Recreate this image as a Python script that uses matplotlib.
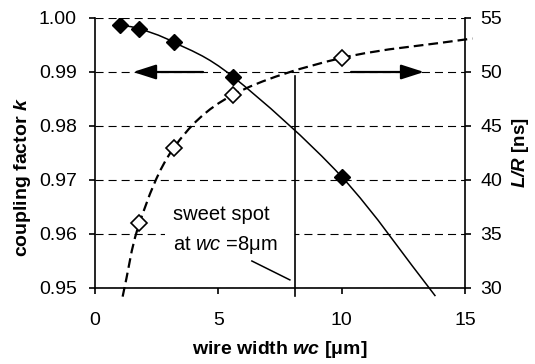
import matplotlib
matplotlib.use("Agg")
import matplotlib.pyplot as plt
from matplotlib.path import Path
from matplotlib.patches import PathPatch, Rectangle

plt.rcParams['font.family'] = ['Liberation Sans', 'DejaVu Sans']
plt.rcParams['mathtext.fontset'] = 'custom'
plt.rcParams['mathtext.rm'] = 'Liberation Sans'
plt.rcParams['mathtext.it'] = 'Liberation Sans:italic'
plt.rcParams['mathtext.bf'] = 'Liberation Sans:bold'
plt.rcParams['mathtext.bfit'] = 'Liberation Sans:bold:italic'
plt.rcParams['lines.scale_dashes'] = False

# ---- data ----
wc_k = [1.0, 1.8, 3.2, 5.6, 10.0]
k_vals = [0.9987, 0.9980, 0.9955, 0.9891, 0.9706]
wc_lr = [1.8, 3.2, 5.6, 10.0]
lr_vals = [36.0, 43.0, 47.9, 51.3]
# smoothed trend lines (incl. their visible end points)
k_line_x = [1.0, 1.8, 3.2, 5.6, 10.0, 13.8]
k_line_y = [0.9987, 0.9980, 0.9955, 0.9891, 0.9706, 0.9485]
lr_line_x = [1.12, 1.8, 3.2, 5.6, 10.0, 15.3]
lr_line_y = [29.2, 36.0, 43.0, 47.9, 51.3, 53.1]

x_ticks = [0, 5, 10, 15]
k_ticks = [0.95, 0.96, 0.97, 0.98, 0.99, 1.00]
lr_ticks = [30, 35, 40, 45, 50, 55]
sweet_spot = 8.1


def smooth_path(xs, ys):
    pts = list(zip(xs, ys))
    n = len(pts)
    ext = [(2 * pts[0][0] - pts[1][0], 2 * pts[0][1] - pts[1][1])] + pts + \
          [(2 * pts[-1][0] - pts[-2][0], 2 * pts[-1][1] - pts[-2][1])]
    verts = [pts[0]]
    codes = [Path.MOVETO]
    for i in range(1, n):
        p0, p1, p2, p3 = ext[i - 1], ext[i], ext[i + 1], ext[i + 2]
        c1 = (p1[0] + (p2[0] - p0[0]) / 6, p1[1] + (p2[1] - p0[1]) / 6)
        c2 = (p2[0] - (p3[0] - p1[0]) / 6, p2[1] - (p3[1] - p1[1]) / 6)
        verts += [c1, c2, p2]
        codes += [Path.CURVE4] * 3
    return Path(verts, codes)


fig = plt.figure(figsize=(5.35, 3.64), dpi=100)
ax = fig.add_axes([95 / 535, 76 / 364, 370 / 535, 270 / 364])
ax2 = ax.twinx()

ax.set_xlim(0, 15)
ax.set_ylim(0.95, 1.00)
ax2.set_ylim(30, 55)
ax.set_xticks(x_ticks)
ax.set_xticklabels([str(t) for t in x_ticks])
ax.set_yticks(k_ticks)
ax.set_yticklabels([f"{t:.2f}" for t in k_ticks])
ax2.set_yticks(lr_ticks)
ax2.set_yticklabels([str(t) for t in lr_ticks])

for a in (ax, ax2):
    a.spines['top'].set_visible(False)
    for s in a.spines.values():
        s.set_linewidth(1.2)
ax.spines['right'].set_visible(False)
ax2.spines['left'].set_visible(False)
ax2.spines['bottom'].set_visible(False)

ax.tick_params(axis='x', direction='out', length=4, width=1.2, labelsize=14, pad=13)
ax.tick_params(axis='y', direction='out', length=4, width=1.2, labelsize=14, pad=9)
ax2.tick_params(axis='y', direction='out', length=4, width=1.2, labelsize=14, pad=7)

ax.yaxis.grid(True, color='black', linewidth=0.8, linestyle=(0, (5.8, 3.6)))
ax.set_axisbelow(True)

# white background behind annotation text
ax.add_patch(Rectangle((2.85, 0.9515), sweet_spot - 2.85, 0.0168,
                       facecolor='white', edgecolor='none', zorder=1.8))

# k curve
ax.add_patch(PathPatch(smooth_path(k_line_x, k_line_y), fill=False,
                       edgecolor='black', linewidth=1.1, zorder=3, clip_on=False))
ax.plot(wc_k, k_vals, linestyle='none', marker='D', markersize=8.5,
        color='black', zorder=4)

# L/R curve
ax2.add_patch(PathPatch(smooth_path(lr_line_x, lr_line_y), fill=False,
                        edgecolor='black', linewidth=1.6, linestyle=(0, (7, 3.6)),
                        zorder=3, clip_on=False))
ax2.plot(wc_lr, lr_vals, linestyle='none', marker='D', markersize=8.5,
         markerfacecolor='white', markeredgecolor='black', markeredgewidth=1.2,
         zorder=4)

# sweet spot line
ax.plot([sweet_spot, sweet_spot], [0.9485, 0.9893], color='black',
        linewidth=1.2, zorder=3, clip_on=False)
ax.plot([6.36, 7.9], [0.955, 0.9515], color='black', linewidth=1.1, zorder=3)
ax.text(3.16, 0.9626, 'sweet spot', fontsize=14.5, zorder=5)
ax.text(3.16, 0.9570, r'at $\mathit{wc}$ =8μm', fontsize=14.5, zorder=5)

# arrows
arrow_kw = dict(arrowstyle='-|>,head_length=1.4,head_width=0.45', mutation_scale=10,
                lw=1.6, color='black', shrinkA=0, shrinkB=0)
ax.annotate('', xy=(1.54, 0.99), xytext=(4.38, 0.99), arrowprops=arrow_kw, zorder=5)
ax.annotate('', xy=(13.34, 0.99), xytext=(10.38, 0.99), arrowprops=arrow_kw, zorder=5)

ax.set_xlabel(r'wire width $\mathbfit{wc}$ [μm]', fontsize=14, fontweight='bold')
ax.xaxis.set_label_coords(0.5, -0.19)
ax.set_ylabel(r'coupling factor $\mathbfit{k}$', fontsize=14, fontweight='bold')
ax.yaxis.set_label_coords(-0.168, 0.41)
ax2.set_ylabel(r'$\mathbfit{L/R}$ [ns]', fontsize=13.5, fontweight='bold')
ax2.yaxis.set_label_coords(1.122, 0.5)

fig.savefig('out.png', dpi=100)
